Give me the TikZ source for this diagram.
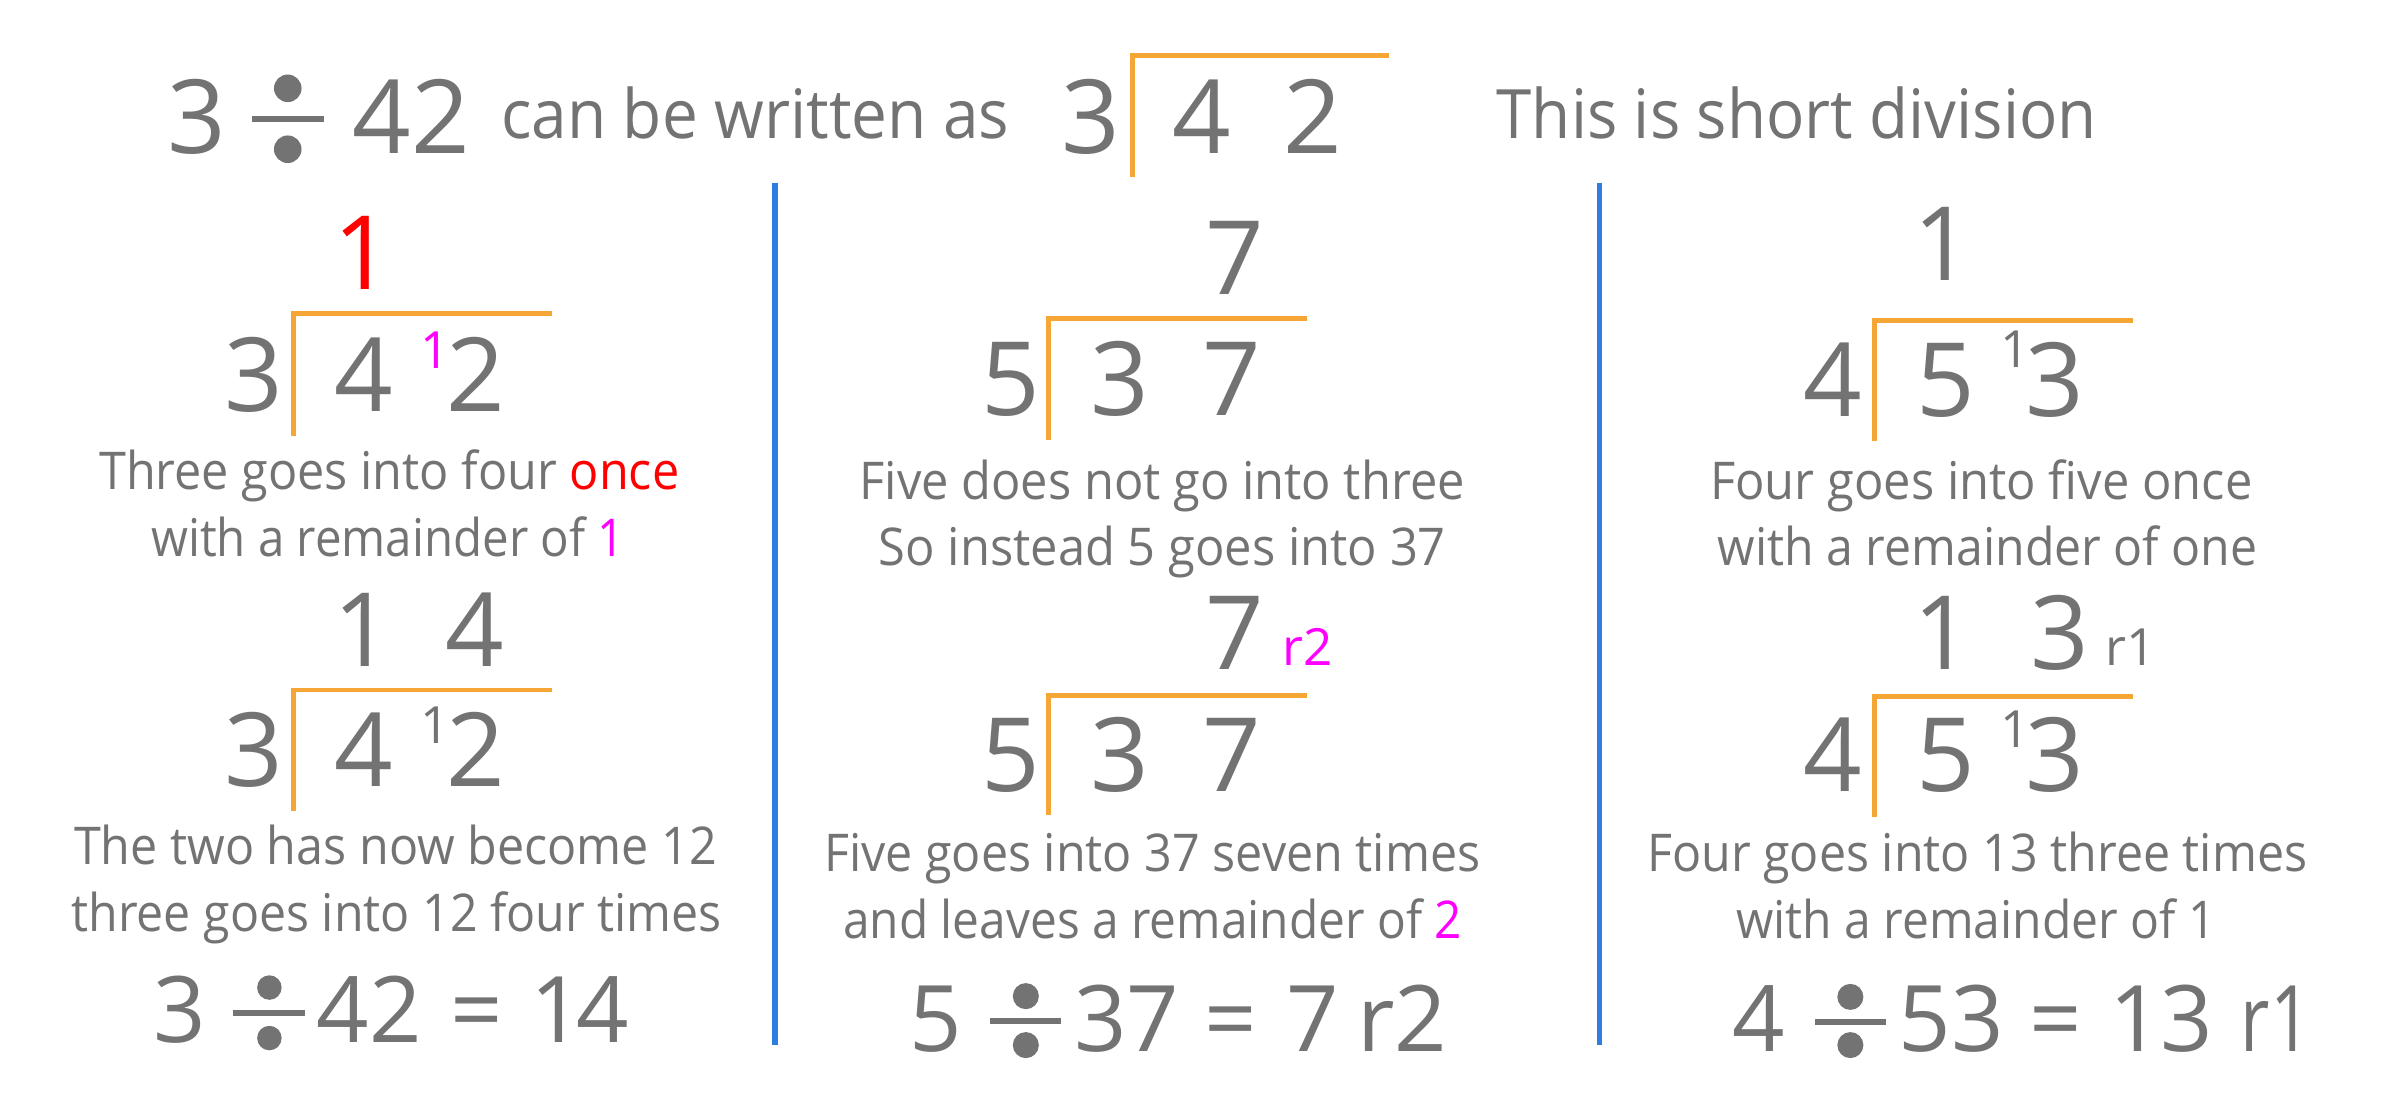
\documentclass[tikz,border=0pt]{standalone}
\usepackage{fontspec}
\setmainfont{Open Sans}
\usepackage{graphicx}
\definecolor{tgray}{RGB}{115,115,115}
\definecolor{brk}{RGB}{245,166,52}
\definecolor{sepc}{RGB}{46,125,225}
\definecolor{mag}{RGB}{255,0,255}
\definecolor{rd}{RGB}{255,0,0}
\newsavebox\fitbox
\newlength\fitlen
\newcommand\fitto[2]{\sbox\fitbox{#2}\setlength\fitlen{\wd\fitbox}\pgfmathsetmacro\fitfac{#1/\fitlen}\scalebox{\fitfac}[1]{\usebox\fitbox}}
% x, base y, top dot offset, bottom dot offset, bar offset, half width, radius, bar thickness
\newcommand\divsign[8]{%
  \fill[tgray] (#1,#2-#3) circle (#7);
  \fill[tgray] (#1,#2-#4) circle (#7);
  \fill[tgray] (#1-#6,#2-#5-#8/2) rectangle (#1+#6,#2-#5+#8/2);
}
\tikzset{
  every node/.style={inner sep=0pt, outer sep=0pt, text=tgray},
  bigd/.style={font=\fontsize{67}{67}\selectfont, anchor=base},
  eqd/.style={font=\fontsize{60}{60}\selectfont, anchor=base},
  supd/.style={font=\fontsize{33.5}{34}\selectfont, anchor=base},
  expl/.style={font=\fontsize{34}{40}\selectfont, anchor=base},
  headt/.style={font=\fontsize{44.5}{50}\selectfont, anchor=base},
  bracket/.style={draw=brk, line width=3.2pt, line join=miter},
  sepline/.style={draw=sepc, line width=3.5pt},
}
\begin{document}
\begin{tikzpicture}[x=1pt,y=-1pt]
\useasboundingbox[fill=white] (0,0) rectangle (1568,716.7);
% ---------- header ----------
\node[bigd] (h3) at (128.3,100.2) {3};
\divsign{188}{100.2}{42.5}{2.7}{22.6}{23.4}{9}{3.7}
\node[bigd] (h42) at (268.8,100.2) {42};
\node[headt] (hcan) at (493.4,90.4) {\fitto{332}{can be written as}};
\node[bigd] (hd3) at (712.5,100.2) {3};
\node[bigd] (hd4) at (785,100.2) {4};
\node[bigd] (hd2) at (858,100.2) {2};
\draw[bracket] (739.8,115.4) -- (739.8,36.5) -- (907.5,36.5);
\node[headt] (hthis) at (1173.9,90.4) {\fitto{392}{This is short division}};
% ---------- separators ----------
\coordinate (s1a) at (506.4,119.8); \coordinate (s1b) at (506.4,683);
\coordinate (s2a) at (1045,119.8); \coordinate (s2b) at (1045,683);
\draw[sepline] (s1a) -- (s1b);
\draw[sepline] (s2a) -- (s2b);
% ---------- left column ----------
\node[bigd, text=rd] (lq1) at (237.3,189.4) {1};
\draw[bracket] (191.7,284.8) -- (191.7,204.7) -- (360.7,204.7);
\node[bigd] (la3) at (165.7,268.9) {3};
\node[bigd] (la4) at (238,268.9) {4};
\node[supd, text=mag] (la1) at (284,240.6) {1};
\node[bigd] (la2) at (310.9,268.9) {2};
\node[expl] (lt1) at (254.3,320.1) {\fitto{379}{Three goes into four \textcolor{rd}{once}}};
\node[expl] (lt2) at (253.5,363.6) {\fitto{309.5}{with a remainder of \textcolor{mag}{1}}};
\node[bigd] (lq2a) at (237.3,435.6) {1};
\node[bigd] (lq2b) at (310.3,435.6) {4};
\draw[bracket] (191.7,529.6) -- (191.7,450.8) -- (360.7,450.8);
\node[bigd] (lb3) at (165.7,513.9) {3};
\node[bigd] (lb4) at (238,513.9) {4};
\node[supd] (lb1) at (284,485.6) {1};
\node[bigd] (lb2) at (310.9,513.9) {2};
\node[expl] (lt3) at (258.4,565.1) {\fitto{420}{The two has now become 12}};
\node[expl] (lt4) at (259.2,608.7) {\fitto{425}{three goes into 12 four times}};
\node[eqd] (le3) at (117.3,681.2) {3};
\divsign{176}{681.2}{36}{3}{19.5}{23.5}{8}{4}
\node[eqd] (le42) at (241.3,681.2) {42};
\node[eqd] (leeq) at (311.2,681.2) {=};
\node[eqd] (le1) at (364,681.2) {1};
\node[eqd] (le4) at (394,681.2) {4};
% ---------- middle column ----------
\node[bigd] (mq1) at (806.7,192.1) {7};
\draw[bracket] (685.2,287.2) -- (685.2,207.9) -- (853.9,207.9);
\node[bigd] (ma5) at (660.1,271.4) {5};
\node[bigd] (ma3) at (731.6,271.4) {3};
\node[bigd] (ma7) at (804.9,271.4) {7};
\node[expl] (mt1) at (759.3,326.1) {\fitto{395.4}{Five does not go into three}};
\node[expl] (mt2) at (759.4,369.6) {\fitto{370.5}{So instead 5 goes into 37}};
\node[bigd] (mq2) at (806.7,437.6) {7};
\node[supd, text=mag] (mr2) at (854.1,434.5) {r2};
\draw[bracket] (685.2,532.7) -- (685.2,454.5) -- (853.9,454.5);
\node[bigd] (mb5) at (660.1,516.8) {5};
\node[bigd] (mb3) at (731.6,516.8) {3};
\node[bigd] (mb7) at (804.9,516.8) {7};
\node[expl] (mt3) at (752.8,569.7) {\fitto{428.7}{Five goes into 37 seven times}};
\node[expl] (mt4) at (753.1,613.2) {\fitto{404.4}{and leaves a remainder of \textcolor{mag}{2}}};
\node[eqd] (me5) at (611.4,686.8) {5};
\divsign{670.2}{686.8}{36}{4}{19.6}{23.2}{8.5}{4}
\node[eqd] (me37) at (736.1,686.8) {37};
\node[eqd] (meeq) at (804.4,686.8) {=};
\node[eqd] (me7) at (857.7,686.8) {7};
\node[eqd] (mer2) at (916.3,686.8) {r2};
% ---------- right column ----------
\node[bigd] (rq1) at (1269.6,183) {1};
\draw[bracket] (1224.4,288.4) -- (1224.4,209.1) -- (1393.6,209.1);
\node[bigd] (ra4) at (1197.4,272.1) {4};
\node[bigd] (ra5) at (1271.3,272.1) {5};
\node[supd] (ra1) at (1316.8,240.4) {1};
\node[bigd] (ra3) at (1342.7,272.1) {3};
\node[expl] (rt1) at (1294.4,326.1) {\fitto{354.3}{Four goes into five once}};
\node[expl] (rt2) at (1298.6,369.6) {\fitto{352.6}{with a remainder of one}};
\node[bigd] (rq2a) at (1269.6,437.6) {1};
\node[bigd] (rq2b) at (1345.6,437.6) {3};
\node[supd] (rr1) at (1392.2,434.5) {r1};
\draw[bracket] (1224.4,533.8) -- (1224.4,455.3) -- (1393.6,455.3);
\node[bigd] (rb4) at (1197.4,516.8) {4};
\node[bigd] (rb5) at (1271.3,516.8) {5};
\node[supd] (rb1) at (1316.8,488.5) {1};
\node[bigd] (rb3) at (1342.7,516.8) {3};
\node[expl] (rt3) at (1291.8,569.7) {\fitto{431.2}{Four goes into 13 three times}};
\node[expl] (rt4) at (1291,613.2) {\fitto{313.3}{with a remainder of 1}};
\node[eqd] (re4) at (1148.8,686.8) {4};
\divsign{1208.9}{686.8}{35.5}{4}{19}{23.1}{8.5}{4}
\node[eqd] (re53) at (1274.7,686.8) {53};
\node[eqd] (reeq) at (1343.4,686.8) {=};
\node[eqd] (re1) at (1395.5,686.8) {1};
\node[eqd] (re3) at (1428.5,686.8) {3};
\node[eqd] (rer1) at (1487,686.8) {\fitto{46}{r1}};
\end{tikzpicture}
\end{document}
